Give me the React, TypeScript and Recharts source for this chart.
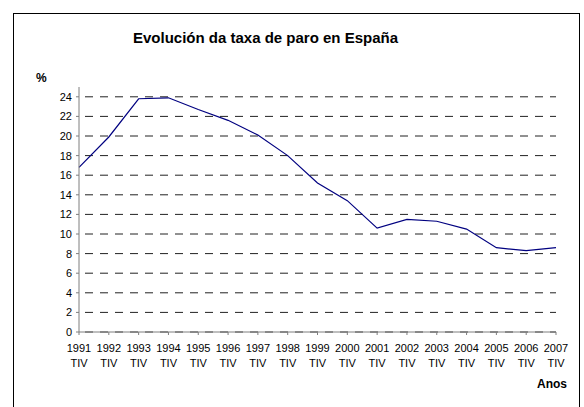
import { LineChart, Line, XAxis, YAxis, CartesianGrid } from 'recharts'

const years = ['1991', '1992', '1993', '1994', '1995', '1996', '1997', '1998', '1999', '2000', '2001', '2002', '2003', '2004', '2005', '2006', '2007']
const quarter = 'TIV'
const paro = [16.8, 19.9, 23.8, 23.9, 22.7, 21.6, 20.1, 18.0, 15.2, 13.4, 10.6, 11.5, 11.3, 10.5, 8.6, 8.3, 8.6]
const yTicks = [0, 2, 4, 6, 8, 10, 12, 14, 16, 18, 20, 22, 24]

const data = years.map((y, i) => ({ ano: y, paro: paro[i] }))

const FONT = '"Liberation Sans", Arial, sans-serif'

function YearTick({ x, y, payload }: any) {
  return (
    <text x={x} y={y} textAnchor="middle" fontSize={11} fill="#000" fontFamily={FONT}>
      <tspan x={x} dy={15}>{payload.value}</tspan>
      <tspan x={x} dy={15}>{quarter}</tspan>
    </text>
  )
}

export default function App() {
  return (
    <div style={{ position: 'absolute', left: 0, top: 0, width: 584, height: 407, overflow: 'hidden', background: '#fff', fontFamily: FONT }}>
      {/* marco do gráfico */}
      <div style={{ position: 'absolute', left: 13, top: 13, width: 565, height: 420, border: '1px solid #000' }} />

      <div style={{ position: 'absolute', left: 0, top: 29, width: 531, textAlign: 'center', fontSize: 15, fontWeight: 'bold', lineHeight: '18px' }}>
        Evolución da taxa de paro en España
      </div>
      <div style={{ position: 'absolute', left: 36, top: 71, fontSize: 12, fontWeight: 'bold', lineHeight: '14px' }}>%</div>
      <div style={{ position: 'absolute', left: 537, top: 377, fontSize: 12, fontWeight: 'bold', lineHeight: '14px' }}>Anos</div>

      <div style={{ position: 'absolute', left: 0, top: 0 }}>
        <LineChart width={584} height={407} data={data} margin={{ top: 87, right: 28, bottom: 35, left: 19 }}>
          <CartesianGrid vertical={false} syncWithTicks stroke="#222" strokeDasharray="0 6 8 1" />
          <XAxis
            dataKey="ano"
            height={40}
            interval={0}
            tick={<YearTick />}
            tickSize={3}
            tickMargin={2}
            stroke="#7f7f7f"
          />
          <YAxis
            width={60}
            domain={[0, 25]}
            ticks={yTicks}
            interval={0}
            tickSize={3}
            tickMargin={4}
            stroke="#7f7f7f"
            tick={{ fontSize: 11, fill: '#000', fontFamily: FONT }}
          />
          <Line type="linear" dataKey="paro" stroke="#000080" strokeWidth={1.2} dot={false} isAnimationActive={false} />
        </LineChart>
      </div>
    </div>
  )
}
